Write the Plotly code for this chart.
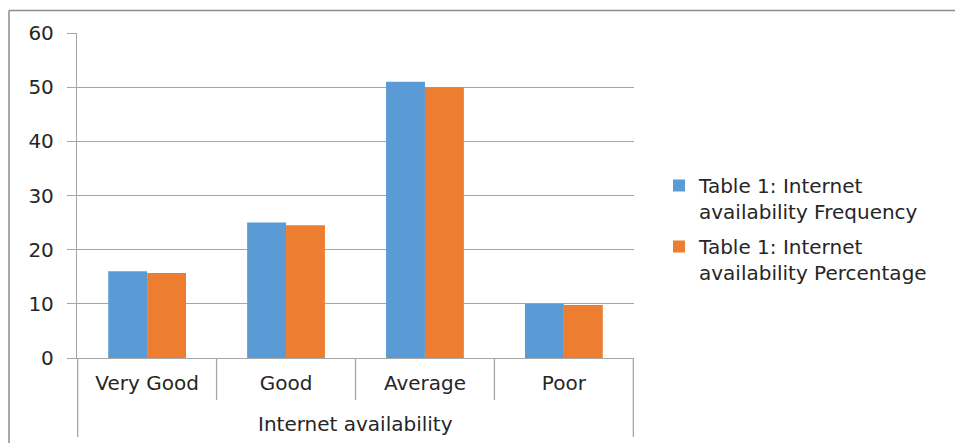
import plotly.graph_objects as go

categories = ["Very Good", "Good", "Average", "Poor"]
frequency = [16, 25, 51, 10]
percentage = [15.7, 24.5, 50.0, 9.8]
series_names = ["Table 1: Internet<br>availability Frequency",
                "Table 1: Internet<br>availability Percentage"]
group_label = "Internet availability"
y_ticks = [0, 10, 20, 30, 40, 50, 60]

FONT = "DejaVu Sans"
FS = 20
GRID = "#a6a6a6"

fig = go.Figure()
fig.add_bar(x=categories, y=frequency, name=series_names[0], marker_color="#5B9BD5",
            marker_line_width=0, legendgroup="f")
fig.add_bar(x=categories, y=percentage, name=series_names[1], marker_color="#ED7D31",
            marker_line_width=0, legendgroup="p")

W, H = 955, 443
L, R, T, B = 77, 634, 33, 358
ph = B - T

shapes = []
n = len(categories)
for i in range(n + 1):
    end = i == 0 or i == n
    shapes.append(dict(type="line", xref="x", yref="paper", x0=i - 0.5, x1=i - 0.5,
                       y0=0, y1=-(437 - B) / ph if end else -(400 - B) / ph,
                       line=dict(color=GRID, width=1.3)))
shapes.append(dict(type="line", xref="paper", yref="paper",
                   x0=(9 - L) / (R - L), x1=(W + 5 - L) / (R - L),
                   y0=(B - 10.5) / ph, y1=(B - 10.5) / ph,
                   line=dict(color="#8c8c8c", width=1.5)))
shapes.append(dict(type="line", xref="paper", yref="paper",
                   x0=(9 - L) / (R - L), x1=(9 - L) / (R - L),
                   y0=(B - 10.5) / ph, y1=(B - H - 5) / ph,
                   line=dict(color="#8c8c8c", width=1.5)))

fig.update_layout(
    width=W, height=H,
    margin=dict(l=L, r=W - R, t=T, b=H - B),
    paper_bgcolor="white", plot_bgcolor="white",
    font=dict(family=FONT, size=FS, color="#262626"),
    barmode="group", bargap=0.44, bargroupgap=0,
    showlegend=True,
    legend=dict(x=(659 - L) / (R - L), xanchor="left", y=(B - 229) / ph, yanchor="middle",
                font=dict(size=FS), tracegroupgap=6, itemwidth=30, valign="top"),
    shapes=shapes,
    annotations=[dict(text=group_label, xref="paper", yref="paper", x=0.5,
                      y=-(424 - B) / ph, yanchor="middle", showarrow=False,
                      font=dict(size=FS))],
)
fig.update_xaxes(type="category", showline=True, linecolor=GRID, linewidth=1.3,
                 ticks="", showgrid=False, tickfont=dict(size=FS), ticklabelstandoff=7)
fig.update_yaxes(range=[0, 60], tickvals=y_ticks, showgrid=True, gridcolor=GRID,
                 gridwidth=1.2, showline=True, linecolor=GRID, linewidth=1.3,
                 ticks="outside", ticklen=9, tickcolor=GRID, tickwidth=1.2,
                 zeroline=False, tickfont=dict(size=FS), ticklabelstandoff=9)

fig.write_html("out.html", config={"displayModeBar": False},
               post_script="document.body.style.margin='0';")
